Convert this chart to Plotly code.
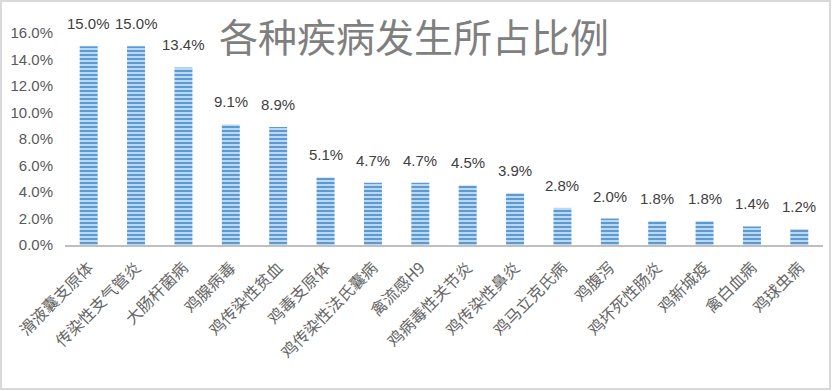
import plotly.graph_objects as go

categories = ["滑液囊支原体", "传染性支气管炎", "大肠杆菌病", "鸡腺病毒", "鸡传染性贫血",
              "鸡毒支原体", "鸡传染性法氏囊病", "禽流感H9", "鸡病毒性关节炎", "鸡传染性鼻炎",
              "鸡马立克氏病", "鸡腹泻", "鸡坏死性肠炎", "鸡新城疫", "禽白血病", "鸡球虫病"]
values = [15.0, 15.0, 13.4, 9.1, 8.9, 5.1, 4.7, 4.7, 4.5, 3.9, 2.8, 2.0, 1.8, 1.8, 1.4, 1.2]
y_ticks = [0, 2, 4, 6, 8, 10, 12, 14, 16]
y_tick_labels = [f"{v:.1f}%" for v in y_ticks]
title = "各种疾病发生所占比例"

W, H = 832, 391
L, R, T, B = 65, 9, 33, 146

fig = go.Figure(go.Bar(
    x=categories, y=values,
    cliponaxis=False,
    marker=dict(color="#5b9bd5", line=dict(width=0),
                pattern=dict(shape="-", fgcolor="#5b9bd5", bgcolor="#bdd7ee",
                             size=4, solidity=0.5, fillmode="replace")),
))

pw = W - L - R
ph = H - T - B
def px2x(px):
    return (px - L) / pw
def py2y(py):
    return (H - B - py) / ph

value_labels = [dict(x=c, y=v, text=f"{v:.1f}%", xref="x", yref="y",
                     xanchor="center", yanchor="bottom", yshift=12, showarrow=False,
                     font=dict(family="Liberation Sans, Noto Sans CJK SC", size=15, color="#404040"))
                for c, v in zip(categories, values)]

fig.update_layout(
    width=W, height=H,
    margin=dict(l=L, r=R, t=T, b=B, autoexpand=False),
    plot_bgcolor="white", paper_bgcolor="white",
    bargap=0.62,
    showlegend=False,
    font=dict(family="Noto Sans CJK SC", color="#595959"),
    xaxis=dict(showgrid=False, showline=True, linecolor="#bfbfbf", linewidth=2,
               tickangle=-45, tickfont=dict(size=16, color="#666666"),
               ticks="", automargin=False, fixedrange=True, ticklabelstandoff=5),
    yaxis=dict(range=[0, 16], tickvals=y_ticks, ticktext=y_tick_labels,
               showgrid=False, zeroline=False, showline=False, automargin=False,
               tickfont=dict(family="Liberation Sans, Noto Sans", size=15, color="#595959"),
               ticklabelstandoff=11, fixedrange=True),
    annotations=value_labels + [dict(text=title, xref="paper", yref="paper",
                      x=px2x(414), y=py2y(35), xanchor="center", yanchor="middle",
                      showarrow=False,
                      font=dict(family="Noto Sans CJK SC", size=39, color="#7f7f7f"))],
    shapes=[dict(type="rect", xref="paper", yref="paper",
                 x0=px2x(1), x1=px2x(830), y0=py2y(389), y1=py2y(1),
                 line=dict(color="#d9d9d9", width=2), layer="below")],
)

fig.write_html("out.html", config={"displayModeBar": False},
               post_script="document.body.style.margin='0';document.body.style.overflow='hidden';")
